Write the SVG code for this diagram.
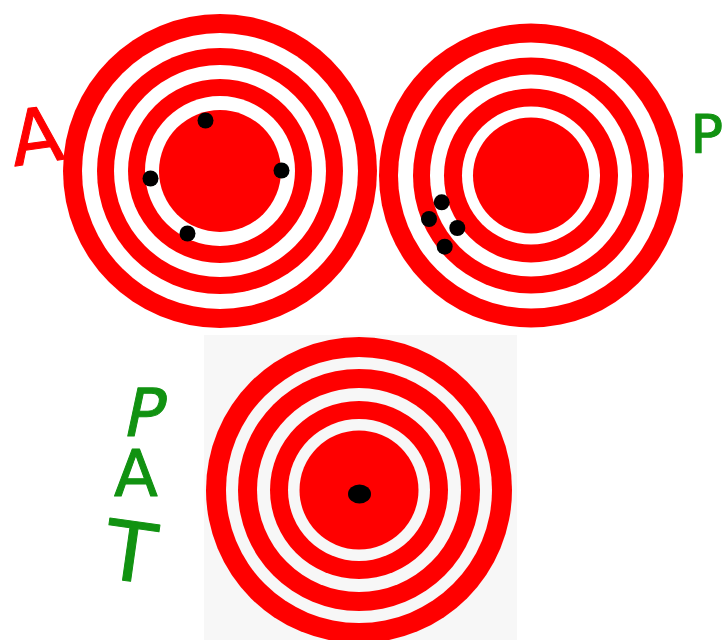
<svg xmlns="http://www.w3.org/2000/svg" width="728" height="640" viewBox="0 0 728 640">
  <style>
    .r { fill: #ff0000; }
    .w { fill: #ffffff; }
    .g { fill: #f7f7f7; }
    .dot { fill: #000000; }
    .hand { font-family: "DejaVu Sans", "Liberation Sans", sans-serif; font-weight: normal; stroke-width: 1; stroke-linejoin: round; }
    .red { fill: #ff0000; stroke: #ff0000; }
    .green { fill: #119211; stroke: #119211; }
  </style>
  <rect width="728" height="640" fill="#ffffff"/>

  <g id="target-a">
    <circle class="r" cx="220" cy="171" r="157"/>
    <circle class="w" cx="220" cy="171" r="138"/>
    <circle class="r" cx="220" cy="171" r="123"/>
    <circle class="w" cx="220" cy="171" r="106"/>
    <circle class="r" cx="220" cy="171" r="92"/>
    <circle class="w" cx="220" cy="171" r="75"/>
    <circle class="r" cx="220" cy="171" r="61"/>
    <circle class="dot" cx="205.5" cy="120.5" r="8"/>
    <circle class="dot" cx="150.5" cy="178.5" r="8"/>
    <circle class="dot" cx="281.5" cy="170.5" r="8"/>
    <circle class="dot" cx="187.5" cy="233.5" r="8"/>
  </g>

  <g id="target-p">
    <circle class="r" cx="531" cy="175.5" r="152"/>
    <circle class="w" cx="531" cy="175.5" r="133"/>
    <circle class="r" cx="531" cy="175.5" r="118"/>
    <circle class="w" cx="531" cy="175.5" r="101"/>
    <circle class="r" cx="531" cy="175.5" r="87"/>
    <circle class="w" cx="531" cy="175.5" r="69"/>
    <circle class="r" cx="531" cy="175.5" r="58"/>
    <circle class="dot" cx="441.7" cy="202.3" r="8"/>
    <circle class="dot" cx="429" cy="219" r="8"/>
    <circle class="dot" cx="457.3" cy="228" r="8"/>
    <circle class="dot" cx="444.7" cy="246.7" r="8"/>
  </g>

  <g id="target-pat">
    <rect class="g" x="204" y="335" width="313" height="305"/>
    <circle class="r" cx="359" cy="490" r="153"/>
    <circle class="g" cx="359" cy="490" r="133"/>
    <circle class="r" cx="359" cy="490" r="121"/>
    <circle class="g" cx="359" cy="490" r="102"/>
    <circle class="r" cx="359" cy="490" r="89"/>
    <circle class="g" cx="359" cy="490" r="71"/>
    <circle class="r" cx="359" cy="490" r="59.5"/>
    <ellipse class="dot" cx="359.5" cy="494" rx="11.5" ry="9.5"/>
  </g>

  <g id="labels">
    <text class="hand red" x="10" y="163" font-size="76" transform="rotate(-8 35 135)">A</text>
    <text class="hand green" x="723" y="153" font-size="54" text-anchor="end">P</text>
    <text class="hand green" x="122" y="436" font-size="66" transform="skewX(-12) translate(92 0)">P</text>
    <text class="hand green" x="114" y="496" font-size="64">A</text>
    <text class="hand green" x="106" y="582" font-size="82" transform="rotate(8 137 550)">T</text>
  </g>
</svg>
